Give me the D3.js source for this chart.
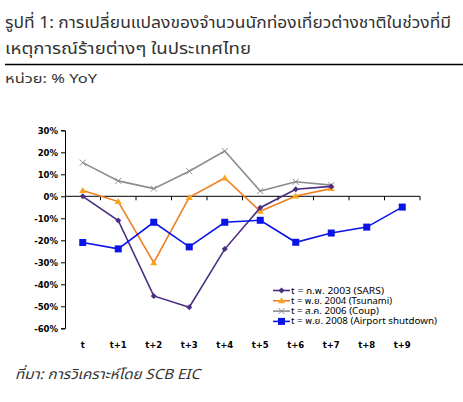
<!DOCTYPE html>
<html><head><meta charset="utf-8">
<script src="https://cdn.jsdelivr.net/npm/d3@7"></script>
<style>body{margin:0;background:#fff}svg{display:block}</style>
</head><body>
<script>
const categories = ["t","t+1","t+2","t+3","t+4","t+5","t+6","t+7","t+8","t+9"];
const sars    = [0, -11, -45.3, -50.4, -24, -5.2, 3.2, 4.5];
const tsunami = [2.6, -2.4, -30.2, -0.5, 8.3, -6.8, 0.1, 3.5];
const coup    = [15.3, 7, 3.5, 11.4, 20.6, 2.4, 6.6, 5.1];
const airport = [-21, -23.9, -11.8, -23, -11.8, -10.9, -20.9, -16.7, -14, -4.9];
const yTicks = [30, 20, 10, 0, -10, -20, -30, -40, -50, -60];
const seriesNames = ["t = ก.พ. 2003 (SARS)", "t = พ.ย. 2004 (Tsunami)", "t = ส.ค. 2006 (Coup)", "t = พ.ย. 2008 (Airport shutdown)"];

const W = 463, H = 402;
const svg = d3.select("body").append("svg").attr("width", W).attr("height", H);
const thai = "Tahoma, 'Noto Sans Thai', 'DejaVu Sans', sans-serif";

function txt(x0, y0, size, len, s, italic) {
  const t = svg.append("text").attr("x", x0).attr("y", y0).attr("font-family", thai).attr("font-size", size)
    .attr("fill", "#333").attr("textLength", len).attr("lengthAdjust", "spacingAndGlyphs").text(s);
  if (italic) t.attr("font-style", "italic");
  return t;
}
txt(5, 28, 16, 446, "รูปที่ 1: การเปลี่ยนแปลงของจำนวนนักท่องเที่ยวต่างชาติในช่วงที่มี");
txt(5, 54, 16, 246, "เหตุการณ์ร้ายต่างๆ ในประเทศไทย");
svg.append("line").attr("x1", 5).attr("x2", 463).attr("y1", 64.5).attr("y2", 64.5).attr("stroke", "#000").attr("stroke-width", 1.5);
txt(5, 83, 12.5, 92, "หน่วย: % YoY");
txt(15, 379, 14, 185, "ที่มา: การวิเคราะห์โดย SCB EIC", true);

const x = d3.scaleBand().domain(categories).range([65, 420]);
const y = d3.scaleLinear().domain([-60, 30]).range([328.3, 130.3]);
const cx = c => x(c) + x.bandwidth() / 2;

const axFont = "Verdana, 'DejaVu Sans', sans-serif";
// y axis
const ya = svg.append("g").attr("transform", "translate(65,0)")
  .call(d3.axisLeft(y).tickValues(yTicks).tickSize(4).tickFormat(d => d + "%"));
ya.select(".domain").attr("stroke", "#000");
ya.selectAll(".tick line").attr("stroke", "#000");
ya.selectAll("text").attr("font-family", axFont).attr("font-size", 8.5).attr("font-weight", "bold").attr("fill", "#000").attr("x", -7);

// x axis at zero
const xa = svg.append("g").attr("transform", `translate(0,${y(0)})`)
  .call(d3.axisBottom(x).tickSize(4).tickSizeOuter(0).tickFormat(""));
xa.select(".domain").attr("stroke", "#000").attr("d", `M65,0H420`);
xa.selectAll(".tick").remove();
const bounds = d3.range(1, categories.length + 1).map(i => 65 + i * x.step());
xa.selectAll(".bt").data(bounds).enter().append("line")
  .attr("x1", d => d).attr("x2", d => d).attr("y1", 0).attr("y2", 4).attr("stroke", "#000");

// x labels at bottom
svg.append("g").selectAll("text").data(categories).enter().append("text")
  .attr("x", d => cx(d)).attr("y", 348).attr("text-anchor", "middle")
  .attr("font-family", axFont).attr("font-size", 8.5).attr("font-weight", "bold").attr("fill", "#000").text(d => d);

const series = [
  {data: sars, color: "#4b2e83", sym: "diamond"},
  {data: tsunami, color: "#f07f1f", sym: "triangle"},
  {data: coup, color: "#8c8c8c", sym: "x"},
  {data: airport, color: "#0a14e6", sym: "square"}
];
const line = d3.line().x((d, i) => cx(categories[i])).y(d => y(d));

function drawSym(g, sym, color, px, py) {
  if (sym === "diamond") g.append("path").attr("d", `M${px},${py-3}L${px+3},${py}L${px},${py+3}L${px-3},${py}Z`).attr("fill", color);
  else if (sym === "triangle") g.append("path").attr("d", `M${px},${py-3.5}L${px+3.5},${py+2.5}L${px-3.5},${py+2.5}Z`).attr("fill", "#f7a51e");
  else if (sym === "square") g.append("rect").attr("x", px-3.5).attr("y", py-3.5).attr("width", 7).attr("height", 7).attr("fill", color);
  else g.append("path").attr("d", `M${px-3},${py-3}L${px+3},${py+3}M${px-3},${py+3}L${px+3},${py-3}`).attr("stroke", color).attr("stroke-width", 1);
}

const order = [2, 1, 0, 3];
order.forEach(k => {
  const s = series[k];
  const g = svg.append("g");
  g.append("path").datum(s.data).attr("d", line).attr("fill", "none").attr("stroke", s.color).attr("stroke-width", 1.6);
  s.data.forEach((v, i) => drawSym(g, s.sym, s.color, cx(categories[i]), y(v)));
});

// legend
const legendLens = [93, 101, 88, 146];
const lg = svg.append("g");
seriesNames.forEach((n, i) => {
  const ly = 290.5 + i * 10.3;
  lg.append("line").attr("x1", 273).attr("x2", 290).attr("y1", ly).attr("y2", ly).attr("stroke", series[i].color).attr("stroke-width", 1.6);
  drawSym(lg, series[i].sym, series[i].color, 281.5, ly);
  lg.append("text").attr("x", 291).attr("y", ly + 3).attr("font-family", thai).attr("font-size", 8)
    .attr("textLength", legendLens[i]).attr("lengthAdjust", "spacingAndGlyphs").attr("fill", "#000").text(n);
});
</script>
</body></html>
